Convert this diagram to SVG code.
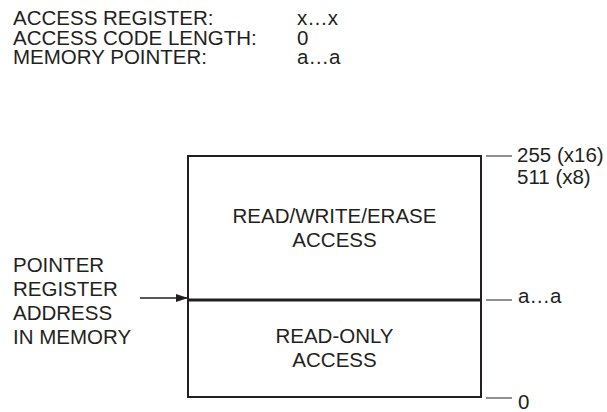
<svg xmlns="http://www.w3.org/2000/svg" width="607" height="412" viewBox="0 0 607 412">
<defs>
<style>
text{font-family:"Liberation Sans",Arial,sans-serif;font-size:20.5px;fill:#231f20}
.c{text-anchor:middle}
.box{fill:none;stroke:#231f20;stroke-width:2}
.tick{stroke:#555;stroke-width:1.3;fill:none}
.arr{stroke:#231f20;stroke-width:1.3;fill:none}
</style>
<marker id="ah" markerWidth="12" markerHeight="8" refX="12" refY="4" orient="auto" markerUnits="userSpaceOnUse">
<path d="M0,0 L12,4 L0,8 Z" fill="#231f20"/>
</marker>
</defs>
<rect width="607" height="412" fill="#fff"/>
<g id="header">
<text x="13" y="25">ACCESS REGISTER:</text>
<text x="297" y="25">x…x</text>
<text x="13" y="44.5">ACCESS CODE LENGTH:</text>
<text x="297" y="44.5">0</text>
<text x="13" y="64">MEMORY POINTER:</text>
<text x="297" y="64">a…a</text>
</g>
<g id="memory">
<rect class="box" x="188" y="156" width="293" height="241"/>
<line x1="188" y1="300" x2="481" y2="300" stroke="#231f20" stroke-width="3"/>
</g>
<g id="rwe">
<text class="c" x="334.5" y="223">READ/WRITE/ERASE</text>
<text class="c" x="334.5" y="247">ACCESS</text>
</g>
<g id="ro">
<text class="c" x="334.5" y="343">READ-ONLY</text>
<text class="c" x="334.5" y="367">ACCESS</text>
</g>
<g id="pointer-label">
<text x="13" y="272">POINTER</text>
<text x="13" y="296">REGISTER</text>
<text x="13" y="320">ADDRESS</text>
<text x="13" y="344">IN MEMORY</text>
</g>
<g id="addr-labels">
<text x="517" y="162">255 (x16)</text>
<text x="517" y="184">511 (x8)</text>
<text x="518" y="303">a…a</text>
<text x="518" y="409">0</text>
</g>
<g id="connectors">
<line class="tick" x1="486" y1="156" x2="512" y2="156"/>
<line class="tick" x1="486" y1="300" x2="512" y2="300"/>
<line class="tick" x1="486" y1="398" x2="512" y2="398"/>
<line class="arr" x1="140" y1="298" x2="188" y2="298" marker-end="url(#ah)"/>
</g>
</svg>
